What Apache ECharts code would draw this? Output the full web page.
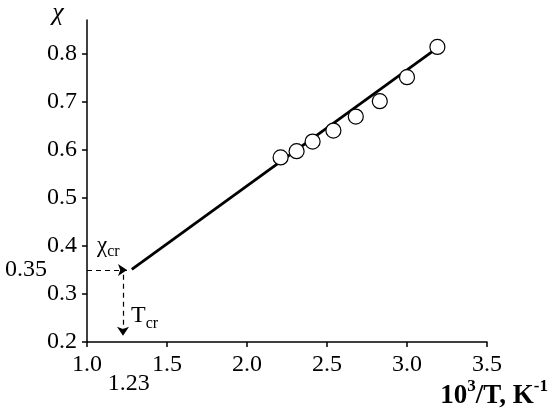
<!DOCTYPE html>
<html>
<head>
<meta charset="utf-8">
<script src="https://cdn.jsdelivr.net/npm/echarts@6/dist/echarts.min.js"></script>
<style>
html, body { margin: 0; padding: 0; background: #fff; }
#chart { width: 550px; height: 416px; }
</style>
</head>
<body>
<div id="chart"></div>
<script>
var chart = echarts.init(document.getElementById('chart'));

// experimental points: 10^3/T and chi
var invT = [2.21, 2.31, 2.41, 2.54, 2.68, 2.83, 3.0, 3.19];
var chi = [0.584, 0.597, 0.617, 0.640, 0.669, 0.701, 0.751, 0.814];

// straight line through the points (two ends)
var fitX = [1.28, 3.19];
var fitY = [0.351, 0.812];

// critical point
var critT = 1.23;
var critChi = 0.35;

// tick values
var xTicks = [1.0, 1.5, 2.0, 2.5, 3.0, 3.5];
var yTicks = [0.2, 0.3, 0.4, 0.5, 0.6, 0.7, 0.8];

var font = 'Liberation Serif';

var points = invT.map(function (x, i) { return [x, chi[i]]; });
var fitLine = fitX.map(function (x, i) { return [x, fitY[i]]; });

var option = {
    animation: false,
    textStyle: { fontFamily: font, color: '#000' },
    grid: { left: 87, right: 63, top: 20, bottom: 74 },
    xAxis: {
        type: 'value',
        min: 1.0,
        max: 3.5,
        interval: 0.5,
        splitLine: { show: false },
        axisLine: { lineStyle: { color: '#000', width: 1.5 } },
        axisTick: { length: 5, lineStyle: { color: '#000', width: 1.5 } },
        axisLabel: {
            color: '#000',
            fontFamily: font,
            fontSize: 24,
            margin: 11,
            customValues: xTicks,
            formatter: function (v) { return Number(v).toFixed(1); }
        }
    },
    yAxis: {
        type: 'value',
        min: 0.2,
        max: 0.87,
        splitLine: { show: false },
        axisLine: { lineStyle: { color: '#000', width: 1.5 } },
        axisTick: {
            length: 5,
            customValues: yTicks,
            lineStyle: { color: '#000', width: 1.5 }
        },
        axisLabel: {
            color: '#000',
            fontFamily: font,
            fontSize: 24,
            margin: 10,
            customValues: yTicks,
            formatter: function (v) { return Number(v).toFixed(1); }
        }
    },
    series: [
        {
            name: 'fit',
            type: 'line',
            data: fitLine,
            showSymbol: false,
            symbol: 'none',
            lineStyle: { color: '#000', width: 2.8 },
            z: 2,
            markLine: {
                silent: true,
                symbol: ['none', 'arrow'],
                symbolSize: 9,
                label: { show: false },
                lineStyle: { color: '#000', width: 1.2, type: [5, 4] },
                data: [
                    [{ coord: [1.0, critChi] }, { coord: [critT + 0.02, critChi] }],
                    [{ coord: [critT - 0.005, critChi - 0.01] }, { coord: [critT - 0.005, 0.213] }]
                ]
            }
        },
        {
            name: 'exp',
            type: 'scatter',
            data: points,
            symbol: 'circle',
            symbolSize: 15,
            itemStyle: { color: '#fff', borderColor: '#000', borderWidth: 1.2, opacity: 1 },
            z: 3
        }
    ]
};

chart.setOption(option);

var pCrit = chart.convertToPixel({ gridIndex: 0 }, [critT, critChi]);

chart.setOption({
    graphic: [
        {
            type: 'text',
            style: {
                text: '\u03c7',
                x: 58, y: 13,
                align: 'center', verticalAlign: 'middle',
                font: 'italic 26px ' + font,
                fill: '#000'
            }
        },
        {
            type: 'text',
            style: {
                text: critChi.toFixed(2),
                x: 47, y: pCrit[1],
                align: 'right', verticalAlign: 'middle',
                font: '24px ' + font,
                fill: '#000'
            }
        },
        {
            type: 'text',
            style: {
                text: critT.toFixed(2),
                x: pCrit[0] + 5, y: 384,
                align: 'center', verticalAlign: 'middle',
                font: '24px ' + font,
                fill: '#000'
            }
        },
        {
            type: 'text',
            style: {
                text: '{m|\u03c7}{s|cr}',
                x: 97, y: 247,
                align: 'left', verticalAlign: 'middle',
                rich: {
                    m: { fontFamily: font, fontSize: 23, lineHeight: 26, verticalAlign: 'top', fill: '#000', color: '#000' },
                    s: { fontFamily: font, fontSize: 16, lineHeight: 26, verticalAlign: 'bottom', fill: '#000', color: '#000' }
                }
            }
        },
        {
            type: 'text',
            style: {
                text: '{m|T}{s|cr}',
                x: 131, y: 318,
                align: 'left', verticalAlign: 'middle',
                rich: {
                    m: { fontFamily: font, fontSize: 24, lineHeight: 28, verticalAlign: 'top', fill: '#000', color: '#000' },
                    s: { fontFamily: font, fontSize: 16, lineHeight: 28, verticalAlign: 'bottom', fill: '#000', color: '#000' }
                }
            }
        },
        {
            type: 'text',
            style: {
                text: '{m|10}{s|3}{m|/T, K}{s|-1}',
                x: 548, y: 394,
                align: 'right', verticalAlign: 'middle',
                rich: {
                    m: { fontFamily: font, fontWeight: 'bold', fontSize: 27, lineHeight: 32, verticalAlign: 'bottom', fill: '#000', color: '#000' },
                    s: { fontFamily: font, fontWeight: 'bold', fontSize: 17, lineHeight: 32, verticalAlign: 'top', fill: '#000', color: '#000' }
                }
            }
        }
    ]
});
</script>
</body>
</html>
